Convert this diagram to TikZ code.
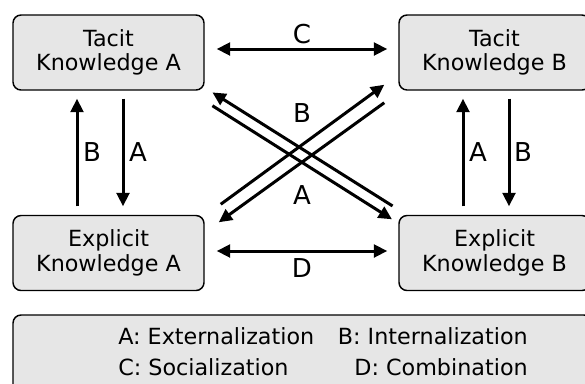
\documentclass[tikz,border=0pt]{standalone}
\usepackage{fontspec}
\setmainfont{DejaVu Sans}
\usetikzlibrary{arrows.meta,calc}
\definecolor{boxgray}{HTML}{E6E6E6}
\begin{document}
\begin{tikzpicture}[x=0.75pt,y=-0.75pt,
  kbox/.style={draw=black,line width=1.1pt,rounded corners=6pt,fill=boxgray,
    minimum width=143.25pt,minimum height=56.25pt,inner sep=0pt,align=center,
    font=\fontsize{16.7}{18.4}\selectfont},
  legbox/.style={draw=black,line width=1.1pt,rounded corners=6pt,fill=boxgray,
    minimum width=434.25pt,minimum height=57.75pt,inner sep=0pt},
  arr/.style={line width=2.25pt,-{Triangle[length=10pt,width=9.5pt]}},
  darr/.style={line width=2.25pt,{Triangle[length=10pt,width=9.5pt]}-{Triangle[length=10pt,width=9.5pt]}},
  lbl/.style={font=\fontsize{19.5}{22}\selectfont,inner sep=0pt},
  leg/.style={font=\fontsize{16.7}{18.4}\selectfont,inner sep=0pt}]
\useasboundingbox (0,0) rectangle (585,383);

% boxes
\node[kbox] (tka) at (108.5,52.5) {Tacit\\Knowledge A};
\node[kbox] (tkb) at (494.5,52.5) {Tacit\\Knowledge B};
\node[kbox] (eka) at (108.5,253) {Explicit\\Knowledge A};
\node[kbox] (ekb) at (494.5,253) {Explicit\\Knowledge B};
\node[legbox] (legend) at (302.5,353.5) {};

% horizontal arrows
\draw[darr] ($(tka.east)+(12,-3.5)$) -- ($(tkb.west)+(-11,-3.5)$);
\draw[darr] ($(eka.east)+(12,-2)$) -- ($(ekb.west)+(-11,-2)$);
\node[lbl] (lc) at (302,34) {C};
\node[lbl] (ld) at (302,268.5) {D};

% vertical arrows left
\draw[arr] ($(eka.north)+(-31.5,-8.5)$) -- ($(tka.south)+(-31.5,8)$);
\draw[arr] ($(tka.south)+(14.5,8)$) -- ($(eka.north)+(14.5,-8.5)$);
\node[lbl] (lbl1) at (92,152) {B};
\node[lbl] (lal) at (138,152) {A};

% vertical arrows right
\draw[arr] ($(ekb.north)+(-31.5,-8.5)$) -- ($(tkb.south)+(-31.5,8)$);
\draw[arr] ($(tkb.south)+(14.5,8)$) -- ($(ekb.north)+(14.5,-8.5)$);
\node[lbl] (lar) at (478,152) {A};
\node[lbl] (lbr) at (523,152) {B};

% diagonals
\draw[arr] ($(ekb.north west)+(-5.7,-8.8)$) -- ($(tka.south east)+(7.7,1.7)$);
\draw[arr] ($(tka.south east)+(7.7,15)$) -- ($(ekb.north west)+(-6.3,4.5)$);
\draw[arr] ($(eka.north east)+(16,-10.5)$) -- ($(tkb.south west)+(-14,-6)$);
\draw[arr] ($(tkb.south west)+(-14,12)$) -- ($(eka.north east)+(14,7.5)$);
\node[lbl] (ldb) at (302,113) {B};
\node[lbl] (lda) at (302,195) {A};

% legend
\node[leg,anchor=base west] (l1) at (118,344) {A: Externalization};
\node[leg,anchor=base east] (l2) at (528,344) {B: Internalization};
\node[leg,anchor=base west] (l3) at (118,375) {C: Socialization};
\node[leg,anchor=base east] (l4) at (528,375) {D: Combination};
\end{tikzpicture}
\end{document}
